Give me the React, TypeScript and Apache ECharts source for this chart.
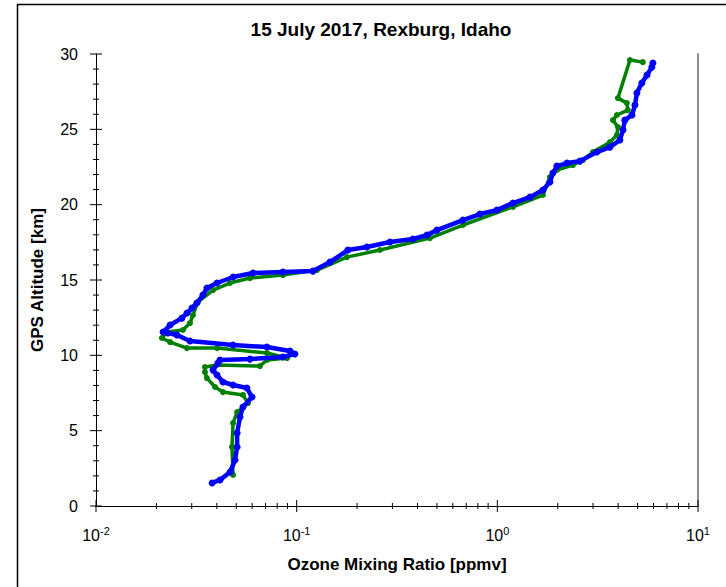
import React, { useEffect, useRef } from "react";
import * as echarts from "echarts";

// Blue profile: ozone mixing ratio [ppmv] vs GPS altitude [km]
const blueOzone = [
  0.0379, 0.0415, 0.0466, 0.0493, 0.0505, 0.0505, 0.0522, 0.054, 0.0599, 0.0565,
  0.0482, 0.0429, 0.0401, 0.0383, 0.0405, 0.0415, 0.0585, 0.0854, 0.098, 0.0926,
  0.0711, 0.0482, 0.0294, 0.0253, 0.0228, 0.0216, 0.0234, 0.0268, 0.0284, 0.0301,
  0.0318, 0.0341, 0.0357, 0.0401, 0.0482, 0.0606, 0.0854, 0.1206, 0.1466, 0.18,
  0.224, 0.2917, 0.3798, 0.4459, 0.5, 0.674, 0.819, 0.995, 1.196, 1.454,
  1.687, 1.829, 1.892, 1.981, 2.223, 2.58, 3.135, 3.64, 4.08, 4.23,
  4.32, 4.69, 4.85, 4.96, 5.25, 5.57, 5.89, 5.96,
];
const blueAlt = [
  1.53, 1.73, 2.26, 3.05, 3.92, 4.84, 5.91, 6.57, 7.23, 7.83,
  8.03, 8.23, 8.69, 9.02, 9.49, 9.69, 9.75, 9.89, 10.09, 10.29,
  10.55, 10.68, 10.95, 11.35, 11.48, 11.55, 12.01, 12.47, 12.81, 13.14,
  13.47, 14.0, 14.47, 14.8, 15.2, 15.46, 15.53, 15.59, 16.19, 16.99,
  17.19, 17.52, 17.72, 17.98, 18.31, 18.98, 19.38, 19.64, 20.11, 20.5,
  20.97, 21.5, 22.1, 22.56, 22.76, 22.89, 23.49, 23.82, 24.29, 24.95,
  25.61, 25.95, 26.61, 27.41, 28.07, 28.6, 29.13, 29.4,
];

// Green profile
const greenOzone = [
  0.0482, 0.0476, 0.0482, 0.0505, 0.0572, 0.054, 0.0429, 0.0392, 0.0357, 0.0349,
  0.0349, 0.0401, 0.0656, 0.0711, 0.0895, 0.0711, 0.0401, 0.0284, 0.0234, 0.0213,
  0.0226, 0.0271, 0.0294, 0.0304, 0.0322, 0.0383, 0.0465, 0.0585, 0.0854, 0.1262,
  0.178, 0.26, 0.4616, 0.674, 1.196, 1.687, 1.829, 1.981, 2.381, 2.67,
  2.995, 3.64, 3.944, 3.99, 3.77, 3.944, 4.47, 4.42, 3.99, 4.58,
  5.31,
];
const greenAlt = [
  2.06, 3.92, 5.51, 6.24, 6.83, 7.37, 7.56, 7.9, 8.49, 8.89,
  9.22, 9.36, 9.29, 9.69, 9.82, 10.15, 10.48, 10.48, 10.88, 11.15,
  11.55, 11.68, 12.14, 12.67, 13.54, 14.33, 14.8, 15.13, 15.33, 15.66,
  16.52, 16.99, 17.78, 18.65, 19.85, 20.64, 21.83, 22.3, 22.63, 22.96,
  23.49, 24.15, 24.62, 25.15, 25.61, 25.95, 26.28, 26.74, 27.07, 29.6,
  29.46,
];

const xMajorTicks = [0.01, 0.1, 1, 10];
const xMinorTicks = [
  0.02, 0.03, 0.04, 0.05, 0.06, 0.07, 0.08, 0.09,
  0.2, 0.3, 0.4, 0.5, 0.6, 0.7, 0.8, 0.9,
  2, 3, 4, 5, 6, 7, 8, 9,
];
const yMajorTicks = [0, 5, 10, 15, 20, 25, 30];
const yMinorTicks = [
  1, 2, 3, 4, 6, 7, 8, 9, 11, 12, 13, 14, 16, 17, 18, 19, 21, 22, 23, 24, 26, 27, 28, 29,
];

const TITLE = "15 July 2017, Rexburg, Idaho";
const X_NAME = "Ozone Mixing Ratio [ppmv]";
const Y_NAME = "GPS Altitude [km]";

const FONT = "'Liberation Sans', Arial, sans-serif";

export default function App() {
  const ref = useRef<HTMLDivElement>(null);

  useEffect(() => {
    if (!ref.current) return;
    const chart = echarts.init(ref.current, null, { renderer: "svg" });

    const greenData = greenOzone.map((v, i) => [v, greenAlt[i]]);
    const blueData = blueOzone.map((v, i) => [v, blueAlt[i]]);

    const xTickData = [
      ...xMajorTicks.map((v) => [v, 0, 6]),
      ...xMinorTicks.map((v) => [v, 0, 3]),
    ];
    const yTickData = [
      ...yMajorTicks.map((v) => [0.01, v, 6]),
      ...yMinorTicks.map((v) => [0.01, v, 3]),
    ];

    chart.setOption({
      animation: false,
      backgroundColor: "#ffffff",
      textStyle: { fontFamily: FONT },
      title: {
        text: TITLE,
        left: 376,
        top: 15,
        textAlign: "center",
        textStyle: { fontFamily: FONT, fontSize: 19, fontWeight: "bold", color: "#000" },
      },
      grid: { left: 96, right: 28, top: 54, bottom: 81 },
      xAxis: [
        {
          type: "log",
          logBase: 10,
          min: 0.01,
          max: 10,
          position: "bottom",
          name: X_NAME,
          nameLocation: "middle",
          nameGap: 50,
          nameTextStyle: { fontFamily: FONT, fontSize: 17, fontWeight: "bold", color: "#000" },
          axisLine: { show: true, lineStyle: { color: "#000", width: 1 } },
          axisTick: { show: false },
          splitLine: { show: false },
          axisLabel: {
            margin: 19,
            formatter: (v: number) => `{a|10}{b|${Math.round(Math.log10(v))}}`,
            rich: {
              a: { fontFamily: FONT, fontSize: 16, color: "#000", lineHeight: 20 },
              b: { fontFamily: FONT, fontSize: 11, color: "#000", verticalAlign: "top", lineHeight: 20, padding: [0, 0, 4, 0] },
            },
          },
        },
        {
          type: "log",
          logBase: 10,
          min: 0.01,
          max: 10,
          position: "top",
          axisLine: { show: true, lineStyle: { color: "#000", width: 1 } },
          axisTick: { show: false },
          axisLabel: { show: false },
          splitLine: { show: false },
        },
      ],
      yAxis: [
        {
          type: "value",
          min: 0,
          max: 30,
          interval: 5,
          position: "left",
          name: Y_NAME,
          nameLocation: "middle",
          nameGap: 50,
          nameTextStyle: { fontFamily: FONT, fontSize: 17, fontWeight: "bold", color: "#000" },
          axisLine: { show: true, lineStyle: { color: "#000", width: 1 } },
          axisTick: { show: false },
          splitLine: { show: false },
          axisLabel: { margin: 18, fontFamily: FONT, fontSize: 16, color: "#000" },
        },
        {
          type: "value",
          min: 0,
          max: 30,
          interval: 5,
          position: "right",
          axisLine: { show: true, lineStyle: { color: "#8c8c8c", width: 2 } },
          axisTick: { show: false },
          axisLabel: { show: false },
          splitLine: { show: false },
        },
      ],
      graphic: [
        { type: "line", shape: { x1: 17, y1: 4.5, x2: 726, y2: 4.5 }, style: { stroke: "#000", lineWidth: 1.5 } },
        { type: "line", shape: { x1: 17.5, y1: 4, x2: 17.5, y2: 587 }, style: { stroke: "#000", lineWidth: 1.5 } },
      ],
      series: [
        {
          name: "green",
          type: "line",
          data: greenData,
          xAxisIndex: 0,
          yAxisIndex: 0,
          symbol: "circle",
          symbolSize: 6,
          showSymbol: true,
          lineStyle: { color: "#008000", width: 3.5 },
          itemStyle: { color: "#008000" },
          z: 2,
        },
        {
          name: "blue",
          type: "line",
          data: blueData,
          xAxisIndex: 0,
          yAxisIndex: 0,
          symbol: "circle",
          symbolSize: 7,
          showSymbol: true,
          lineStyle: { color: "#0000ff", width: 4.5 },
          itemStyle: { color: "#0000ff" },
          z: 3,
        },
        {
          name: "xticks",
          type: "custom",
          xAxisIndex: 0,
          yAxisIndex: 0,
          clip: false,
          silent: true,
          data: xTickData,
          renderItem: (_p: any, api: any) => {
            const pt = api.coord([api.value(0), api.value(1)]);
            const h = api.value(2);
            return {
              type: "line",
              shape: { x1: pt[0], y1: pt[1] - h, x2: pt[0], y2: pt[1] + h },
              style: { stroke: "#000", lineWidth: 1 },
            };
          },
          z: 4,
        },
        {
          name: "yticks",
          type: "custom",
          xAxisIndex: 0,
          yAxisIndex: 0,
          clip: false,
          silent: true,
          data: yTickData,
          renderItem: (_p: any, api: any) => {
            const pt = api.coord([api.value(0), api.value(1)]);
            const h = api.value(2);
            return {
              type: "line",
              shape: { x1: pt[0] - h, y1: pt[1], x2: pt[0] + h, y2: pt[1] },
              style: { stroke: "#000", lineWidth: 1 },
            };
          },
          z: 4,
        },
      ],
    });

    return () => chart.dispose();
  }, []);

  return (
    <div
      ref={ref}
      style={{ position: "fixed", left: 0, top: 0, width: 726, height: 587, background: "#fff" }}
    />
  );
}
